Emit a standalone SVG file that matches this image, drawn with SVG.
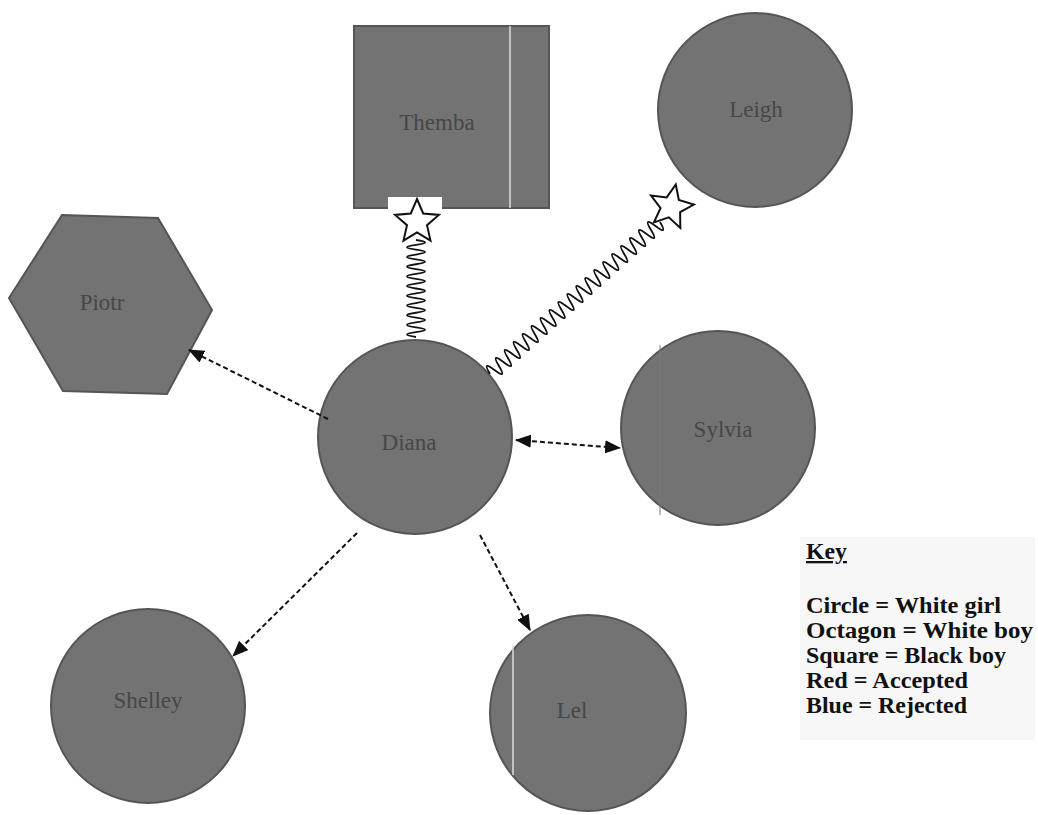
<svg xmlns="http://www.w3.org/2000/svg" width="1038" height="815" viewBox="0 0 1038 815">
<style>
.n{fill:#737373;stroke:#555;stroke-width:2}
.lb{font-family:"Liberation Serif","Times New Roman",serif;font-size:23px;fill:#474747;text-anchor:middle}
.d{fill:none;stroke:#111;stroke-width:2;stroke-dasharray:5 3}
.sp{fill:none;stroke:#111;stroke-width:1.8}
.st{fill:#fff;stroke:#111;stroke-width:2;stroke-linejoin:miter}
.k{font-family:"Liberation Serif","Times New Roman",serif;font-size:23px;font-weight:bold;fill:#111}
</style>
<defs>
<marker id="ah" viewBox="0 0 16 13" refX="15" refY="6.5" markerWidth="16" markerHeight="13" markerUnits="userSpaceOnUse" orient="auto-start-reverse">
<path d="M0,0 L16,6.5 L0,13 Z" fill="#111"/>
</marker>
<path id="star" d="M0,-23 L6.2,-8.5 L21.9,-7.1 L10,3.2 L13.5,18.6 L0,10.5 L-13.5,18.6 L-10,3.2 L-21.9,-7.1 L-6.2,-8.5 Z"/>
</defs>
<rect width="1038" height="815" fill="#fff"/>
<g id="key">
<rect x="800" y="537" width="235" height="203" fill="#f7f7f7"/>
<text class="k" x="806" y="559" text-decoration="underline" textLength="41" lengthAdjust="spacingAndGlyphs">Key</text>
<text class="k" x="806" y="613" textLength="195" lengthAdjust="spacingAndGlyphs">Circle = White girl</text>
<text class="k" x="806" y="638" textLength="227" lengthAdjust="spacingAndGlyphs">Octagon = White boy</text>
<text class="k" x="806" y="663" textLength="200" lengthAdjust="spacingAndGlyphs">Square = Black boy</text>
<text class="k" x="806" y="688" textLength="162" lengthAdjust="spacingAndGlyphs">Red = Accepted</text>
<text class="k" x="806" y="713" textLength="161" lengthAdjust="spacingAndGlyphs">Blue = Rejected</text>
</g>
<g id="themba">
<rect class="n" x="354" y="26" width="195" height="182"/>
<line x1="510" y1="26" x2="510" y2="208" stroke="#ddd" stroke-width="1.5"/>
<text class="lb" x="437" y="130">Themba</text>
</g>
<g id="leigh">
<circle class="n" cx="755" cy="110" r="97"/>
<text class="lb" x="756" y="117">Leigh</text>
</g>
<g id="piotr">
<polygon class="n" points="62,215 158,218 212,310 167,394 63,391 9,298"/>
<text class="lb" x="102" y="310">Piotr</text>
</g>
<g id="diana">
<circle class="n" cx="415" cy="437" r="97"/>
<text class="lb" x="409" y="450">Diana</text>
</g>
<g id="sylvia">
<circle class="n" cx="718" cy="428" r="97"/>
<line x1="660" y1="345" x2="660" y2="515" stroke="#7b7b7b" stroke-width="1"/>
<text class="lb" x="723" y="437">Sylvia</text>
</g>
<g id="shelley">
<circle class="n" cx="148" cy="706" r="97"/>
<text class="lb" x="148" y="708">Shelley</text>
</g>
<g id="lel">
<circle class="n" cx="588" cy="713" r="98"/>
<line x1="513" y1="645" x2="513" y2="775" stroke="#ddd" stroke-width="1.5"/>
<text class="lb" x="572" y="718">Lel</text>
</g>
<g id="connectors">
<path class="sp" transform="translate(416,240) rotate(90)" d="M0,0 q2.4,-18 4.85,0 t4.85,0 t4.85,0 t4.85,0 t4.85,0 t4.85,0 t4.85,0 t4.85,0 t4.85,0 t4.85,0 t4.85,0 t4.85,0 t4.85,0 t4.85,0 t4.85,0 t4.85,0 t4.85,0 t4.85,0 t4.85,0 t4.85,0"/>
<rect x="388" y="197" width="54" height="15" fill="#fff"/>
<use href="#star" class="st" x="417" y="222"/>
<path class="sp" transform="translate(490,374) rotate(-41.8)" d="M0,0 q3,-16 6,0 t6,0 t6,0 t6,0 t6,0 t6,0 t6,0 t6,0 t6,0 t6,0 t6,0 t6,0 t6,0 t6,0 t6,0 t6,0 t6,0 t6,0 t6,0 t6,0 t6,0 t6,0 t6,0 t6,0 t6,0 t6,0 t6,0 t6,0 t6,0 t6,0 t6,0 t6,0 t6,0 t6,0 t6,0 t6,0 t6,0 t6,0"/>
<use href="#star" class="st" transform="translate(671,207) rotate(12)"/>
<line class="d" x1="328" y1="419" x2="189" y2="350" marker-end="url(#ah)"/>
<line class="d" x1="516" y1="440" x2="620" y2="448" marker-start="url(#ah)" marker-end="url(#ah)"/>
<line class="d" x1="357" y1="533" x2="233" y2="656" marker-end="url(#ah)"/>
<line class="d" x1="480" y1="535" x2="530" y2="630" marker-end="url(#ah)"/>
</g>
</svg>
